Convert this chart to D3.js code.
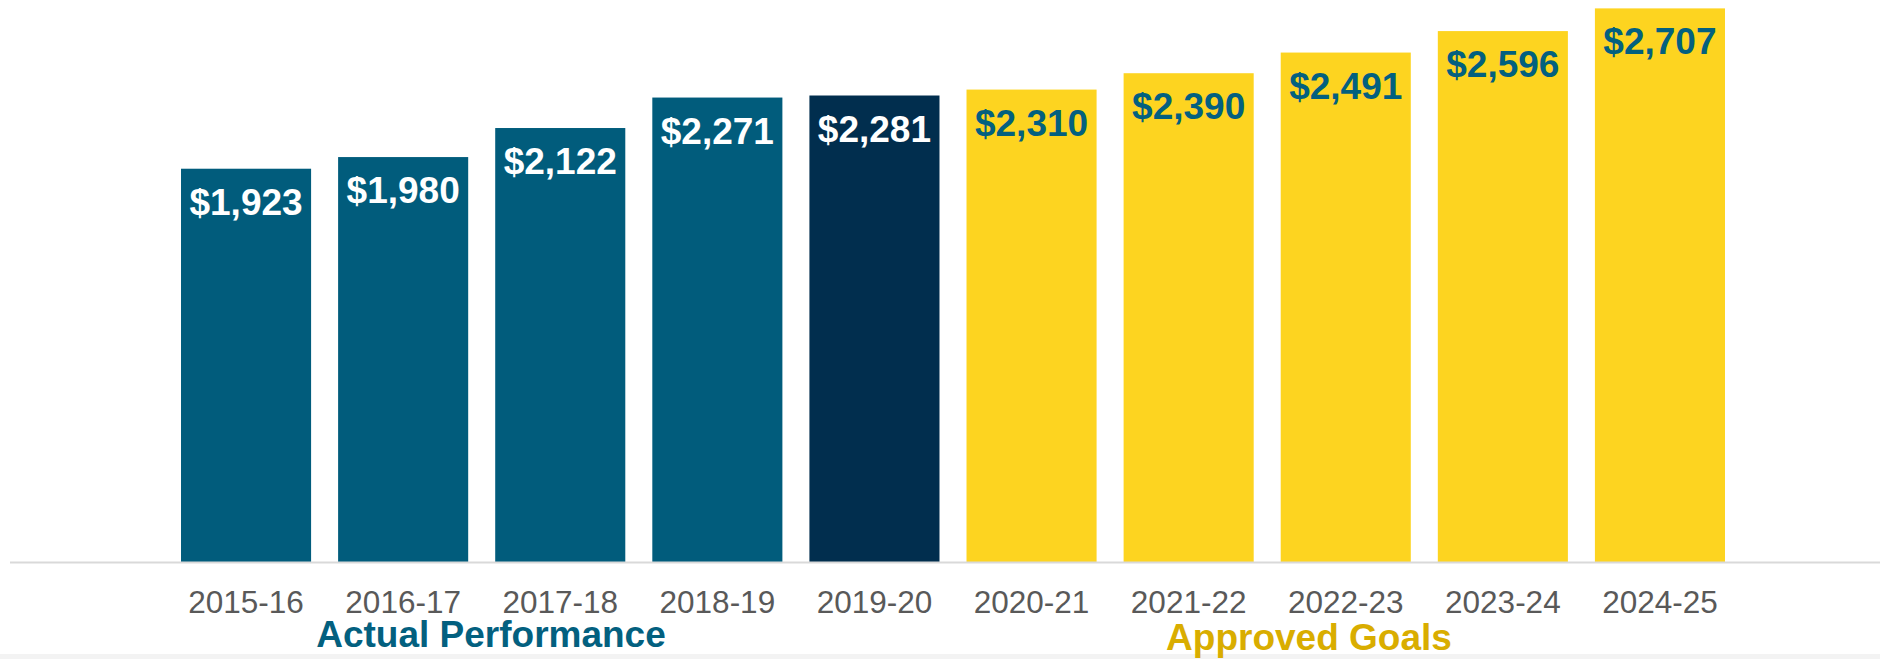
<!DOCTYPE html>
<html>
<head>
<meta charset="utf-8">
<script src="https://cdn.jsdelivr.net/npm/d3@7"></script>
<style>
  body { margin: 0; background: #fff; }
  svg { display: block; font-family: "Liberation Sans", Arial, sans-serif; }
</style>
</head>
<body>
<svg id="svgcanvas" width="1880" height="659"></svg>
<script>
// chart data
var years = ["2015-16", "2016-17", "2017-18", "2018-19", "2019-20",
             "2020-21", "2021-22", "2022-23", "2023-24", "2024-25"];
var amounts = [1923, 1980, 2122, 2271, 2281, 2310, 2390, 2491, 2596, 2707];
var kinds = ["actual", "actual", "actual", "actual", "current",
             "goal", "goal", "goal", "goal", "goal"];
var groupLabels = ["Actual Performance", "Approved Goals"];

var barColor = { actual: "#015c7c", current: "#012e4e", goal: "#fdd420" };
var labelColor = { actual: "#ffffff", current: "#ffffff", goal: "#03607f" };

var data = years.map(function(y, i) { return { year: y, value: amounts[i], kind: kinds[i] }; });

var svg = d3.select("#svgcanvas");
var baseY = 562;

var x = d3.scaleBand()
  .domain(years)
  .range([167.5, 1738.5])
  .paddingInner(0.172)
  .paddingOuter(0.086);

var y = d3.scaleLinear()
  .domain([0, 2748])
  .range([baseY, 0]);

// faint strip at the very bottom
svg.append("rect")
  .attr("x", 0).attr("y", 654)
  .attr("width", 1880).attr("height", 5)
  .attr("fill", "#f3f3f3");

// bars
svg.selectAll("rect.bar")
  .data(data)
  .enter().append("rect")
  .classed("bar", true)
  .attr("x", d => x(d.year))
  .attr("y", d => y(d.value))
  .attr("width", x.bandwidth())
  .attr("height", d => baseY - y(d.value))
  .attr("fill", d => barColor[d.kind]);

// value labels inside bars
svg.selectAll("text.val")
  .data(data)
  .enter().append("text")
  .classed("val", true)
  .attr("x", d => x(d.year) + x.bandwidth() / 2)
  .attr("y", d => y(d.value) + 46)
  .attr("text-anchor", "middle")
  .attr("font-size", 37)
  .attr("font-weight", "bold")
  .attr("fill", d => labelColor[d.kind])
  .text(d => "$" + d3.format(",")(d.value));

// x axis
var xAxis = d3.axisBottom(x).tickSize(0).tickPadding(0);
var gx = svg.append("g")
  .attr("transform", "translate(0," + baseY + ")")
  .call(xAxis);
gx.select(".domain").remove();
gx.selectAll("text")
  .attr("dy", null)
  .attr("y", 51)
  .attr("font-size", 31.5)
  .attr("font-family", "'Liberation Sans', Arial, sans-serif")
  .attr("fill", "#595959");

svg.append("line")
  .attr("x1", 10).attr("x2", 1880)
  .attr("y1", baseY + 0.5).attr("y2", baseY + 0.5)
  .attr("stroke", "#d9d9d9")
  .attr("stroke-width", 2);

// group labels
svg.append("text")
  .attr("x", 491).attr("y", 647)
  .attr("text-anchor", "middle")
  .attr("font-size", 37)
  .attr("font-weight", "bold")
  .attr("fill", "#03607f")
  .text(groupLabels[0]);

svg.append("text")
  .attr("x", 1309).attr("y", 650)
  .attr("text-anchor", "middle")
  .attr("font-size", 37)
  .attr("font-weight", "bold")
  .attr("fill", "#d9ad00")
  .text(groupLabels[1]);
</script>
</body>
</html>
